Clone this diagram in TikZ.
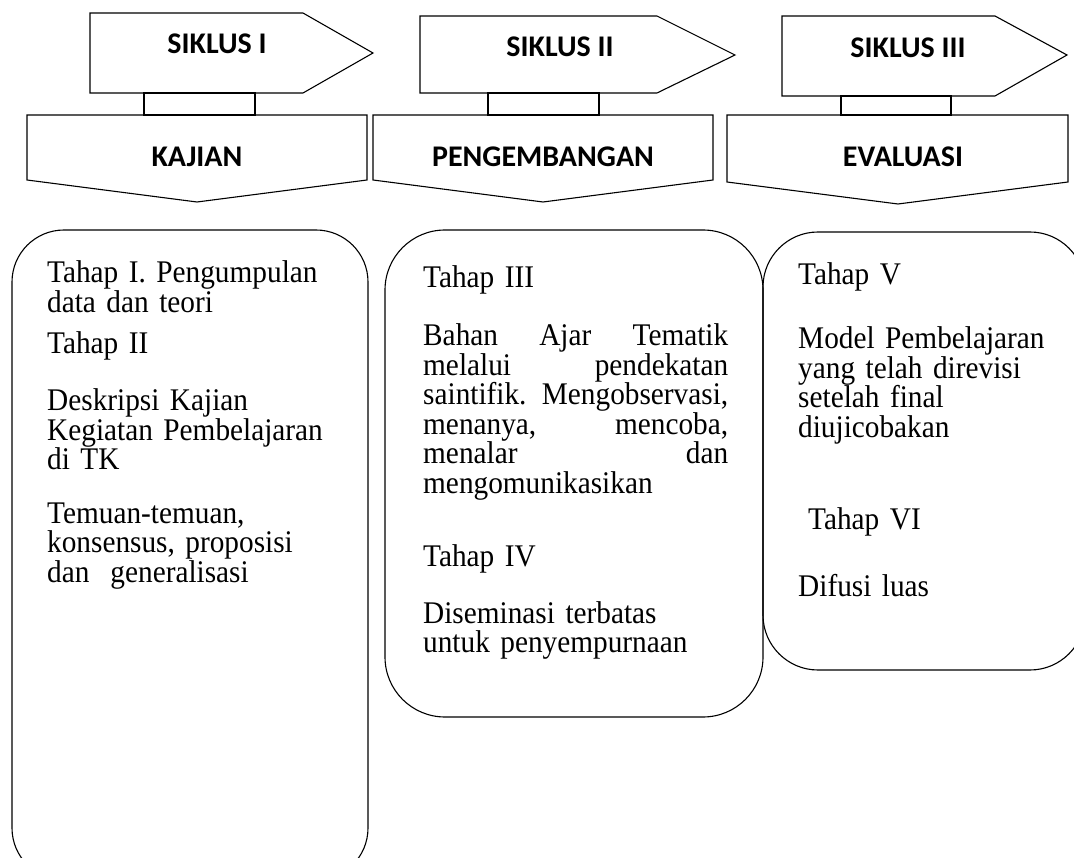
\documentclass[tikz,border=0pt]{standalone}
\usepackage{fontspec}
\setmainfont[FakeStretch=0.93]{Liberation Serif}
\newfontfamily\calibri{Carlito}
\newcommand{\fullline}[1]{\leavevmode\hbox to 305pt{#1}}

\begin{document}
\begin{tikzpicture}[x=1pt,y=-1pt]

	\tikzset{frame/.style = {draw, line width=1.1pt, line join=miter}}
	\tikzset{panel/.style = {draw, line width=1.1pt}}
	\tikzset{title/.style = {inner sep=0pt, font=\calibri\bfseries\fontsize{30}{32}\selectfont}}
	\tikzset{body/.style = {inner sep=0pt, anchor=base west, text width=320pt, align=left,
		font=\fontsize{31.5}{29.5}\selectfont\frenchspacing}}

	\clip (0,0) rectangle (1074,858);

	% siklus arrows, links and phase boxes
	\draw[frame] (90,13) -- (303,13) -- (373,53) -- (303,93) -- (90,93) -- cycle;
	\draw[frame] (144,93) rectangle (255,115);
	\draw[frame] (27,115) -- (367,115) -- (367,180) -- (197,202) -- (27,180) -- cycle;

	\draw[frame] (420,16) -- (657,16) -- (735,55) -- (657,93) -- (420,93) -- cycle;
	\draw[frame] (488,93) rectangle (599,115);
	\draw[frame] (373,115) -- (713,115) -- (713,180) -- (543,202) -- (373,180) -- cycle;

	\draw[frame] (782,16) -- (995,16) -- (1067,55) -- (995,96) -- (782,96) -- cycle;
	\draw[frame] (841,96) rectangle (951,115);
	\draw[frame] (727,115) -- (1068,115) -- (1068,182) -- (898,204) -- (727,182) -- cycle;

	\node[title] (siklus1) at (217,44) {SIKLUS I};
	\node[title] (siklus2) at (560,47) {SIKLUS II};
	\node[title] (siklus3) at (908,48) {SIKLUS III};
	\node[title] (kajian) at (197,157) {KAJIAN};
	\node[title] (pengembangan) at (543,157) {PENGEMBANGAN};
	\node[title] (evaluasi) at (903,157) {EVALUASI};

	% rounded panels
	\draw[panel, rounded corners=52pt] (12,230) rectangle (368,880);
	\draw[panel, rounded corners=60pt] (385,230) rectangle (763,717);
	\draw[panel, rounded corners=55pt] (763,232) rectangle (1085,670);

	\node[body] (p1a) at (47,283) {Tahap I. Pengumpulan\\ data dan teori};
	\node[body] (p1b) at (47,354) {Tahap II};
	\node[body] (p1c) at (47,411) {Deskripsi Kajian\\ Kegiatan Pembelajaran\\ di TK};
	\node[body] (p1d) at (47,523) {Temuan-temuan,\\ konsensus, proposisi\\ dan~ generalisasi};

	\node[body] (p2a) at (423,288) {Tahap III};
	\node[body] (p2b) at (423,346) {\fullline{Bahan\hfill Ajar\hfill Tematik}\\
		\fullline{melalui\hfill pendekatan}\\
		\fullline{saintifik.\hfill Mengobservasi,}\\
		\fullline{menanya,\hfill mencoba,}\\
		\fullline{menalar\hfill dan}\\
		mengomunikasikan};
	\node[body] (p2c) at (423,566) {Tahap IV};
	\node[body] (p2d) at (423,623) {Diseminasi terbatas\\ untuk penyempurnaan};

	\node[body] (p3a) at (798,285) {Tahap V};
	\node[body] (p3b) at (798,349) {Model Pembelajaran\\ yang telah direvisi\\ setelah final\\ diujicobakan};
	\node[body] (p3c) at (808,529) {Tahap VI};
	\node[body] (p3d) at (798,596) {Difusi luas};

\end{tikzpicture}
\end{document}
